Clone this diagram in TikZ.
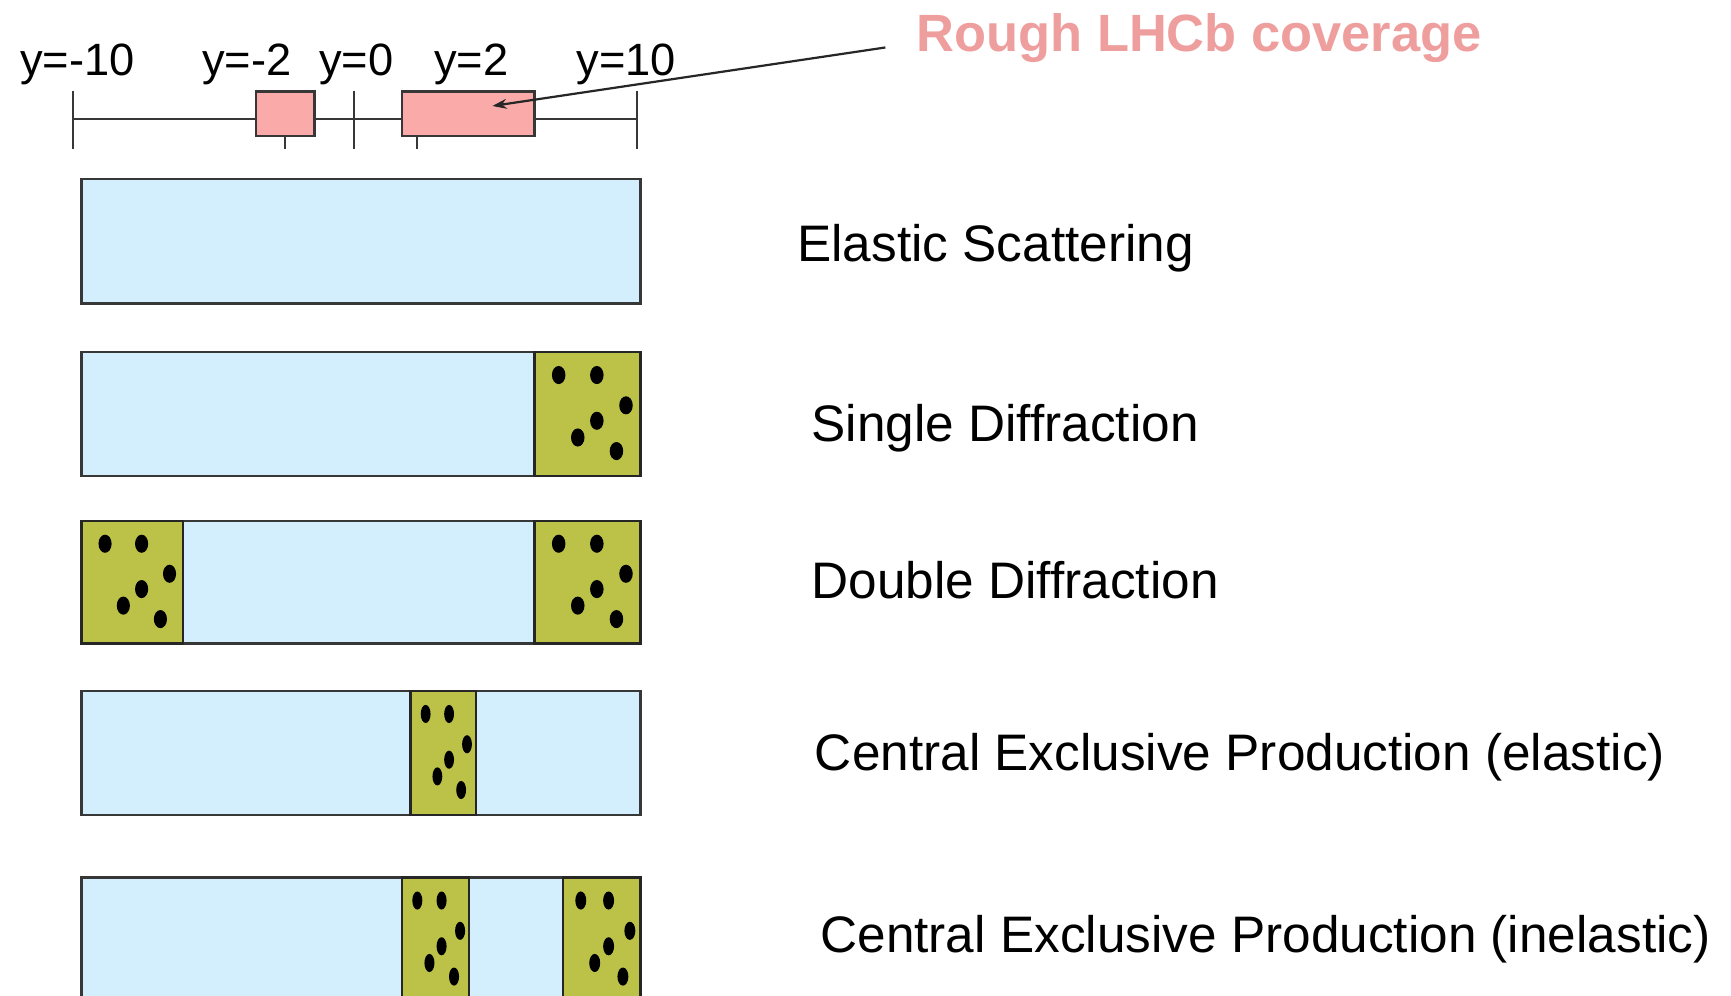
\documentclass[tikz,border=0pt]{standalone}
\usepackage{fontspec}
\setmainfont{Liberation Sans}
\usetikzlibrary{arrows.meta}
\definecolor{barblue}{RGB}{211,238,253}
\definecolor{blkgreen}{RGB}{188,194,72}
\definecolor{pinkbox}{RGB}{251,170,170}
\definecolor{pinktext}{RGB}{239,158,158}
\definecolor{edge}{RGB}{55,55,55}
\tikzset{
  barbox/.style={draw=edge, fill=barblue, line width=2.2pt},
  gblock/.style={draw=black!85, fill=blkgreen, line width=2.2pt},
  covbox/.style={draw=edge, fill=pinkbox, line width=2.2pt},
  axisline/.style={draw=edge, line width=2pt},
  ylab/.style={anchor=base west, inner sep=0pt, font=\fontsize{41}{49}\selectfont},
  proclab/.style={anchor=base west, inner sep=0pt, font=\fontsize{46.5}{56}\selectfont},
  lhcblab/.style={anchor=base west, inner sep=0pt, text=pinktext, font=\fontsize{47.5}{57}\selectfont\bfseries},
  pointer/.style={draw=black!85, line width=2pt, -{Stealth[length=13pt,width=9pt]}}
}
\newcommand\gblk[4]{%
  \pgfmathsetmacro\gw{#2-#1}%
  \pgfmathsetmacro\gh{#4-#3}%
  \pgfmathsetmacro\grx{1.8+0.045*\gw}%
  \draw[gblock] (#1,#3) rectangle (#2,#4);
  \foreach \fx/\fy in {0.23/0.185,0.59/0.185,0.865/0.43,0.59/0.555,0.41/0.69,0.775/0.80}
    \fill[black] ({#1+\fx*\gw},{#3+\fy*\gh}) ellipse [x radius=\grx pt, y radius=8.2pt];
}
\begin{document}
\begin{tikzpicture}[x=1pt,y=-1pt]
\useasboundingbox (0,0) rectangle (1568,902);
\clip (0,0) rectangle (1568,902);
\fill[white] (0,0) rectangle (1568,902);
% axis
\draw[axisline] (66,108) -- (577,108);
\foreach \tx in {66,258,321,378,577}
  \draw[axisline] (\tx,82) -- (\tx,135);
\draw[covbox] (232,83) rectangle (285,123);
\draw[covbox] (364,83) rectangle (484,123);
% axis labels
\node[ylab] (ym10) at (18,68) {y=-10};
\node[ylab] (ym2) at (183,68) {y=-2};
\node[ylab] (y0) at (289,68) {y=0};
\node[ylab] (y2) at (393,68) {y=2};
\node[ylab] (y10) at (522,68) {y=10};
% coverage label and pointer
\node[lhcblab] (lhcb) at (830,47) {Rough LHCb coverage};
\coordinate (arrS) at (802,43);
\coordinate (arrE) at (446,96);
\draw[pointer] (arrS) -- (arrE);
% bars
\draw[barbox] (74,162) rectangle (580,275);
\draw[barbox] (74,319) rectangle (580,431);
\gblk{484}{580}{319}{431}
\draw[barbox] (74,472) rectangle (580,583);
\gblk{74}{166}{472}{583}
\gblk{484}{580}{472}{583}
\draw[barbox] (74,626) rectangle (580,738);
\gblk{372}{431}{626}{738}
\draw[barbox] (74,795) rectangle (580,907);
\gblk{364}{425}{795}{907}
\gblk{510}{580}{795}{907}
% process labels
\node[proclab] (el) at (722,237) {Elastic Scattering};
\node[proclab] (sd) at (735,400) {Single Diffraction};
\node[proclab] (dd) at (735,542) {Double Diffraction};
\node[proclab] (cepe) at (738,698) {Central Exclusive Production (elastic)};
\node[proclab] (cepi) at (743,863) {Central Exclusive Production (inelastic)};
\end{tikzpicture}
\end{document}
